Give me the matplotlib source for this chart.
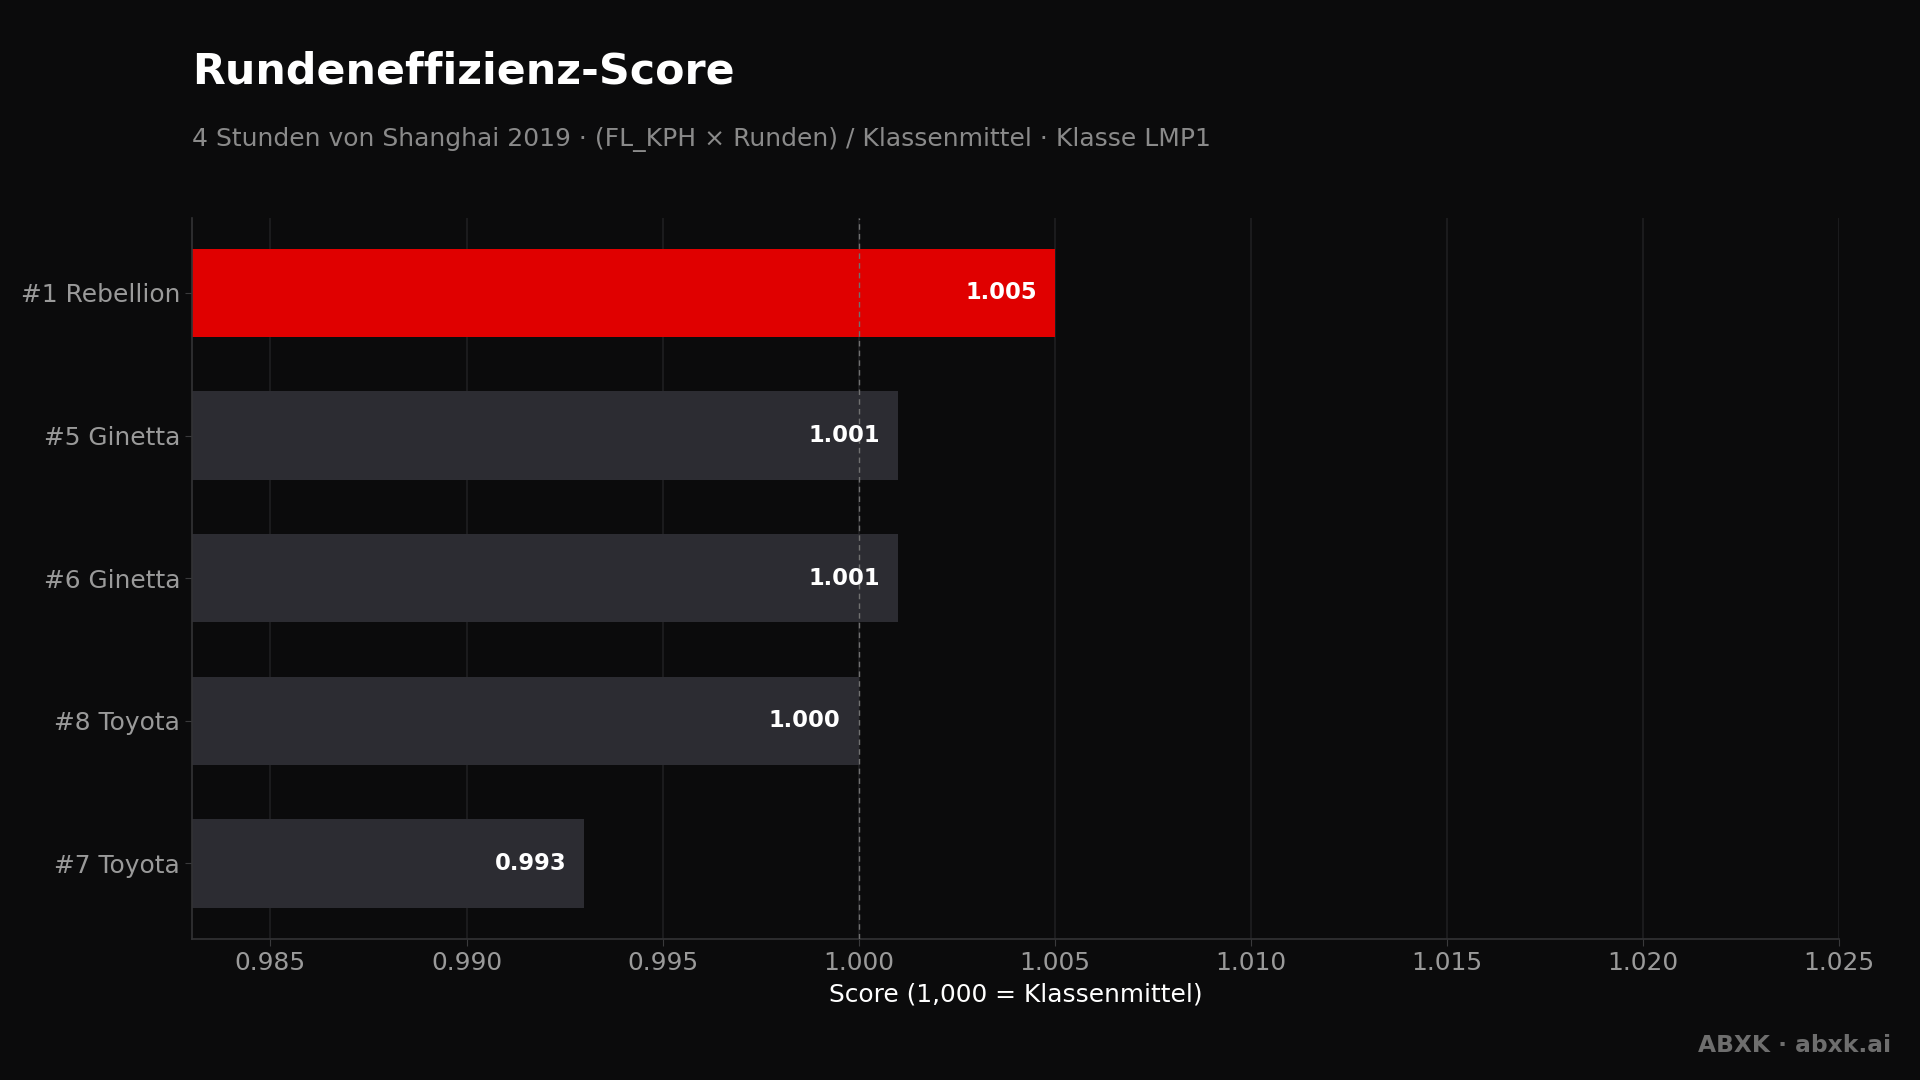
import numpy as np
import matplotlib
matplotlib.use("Agg")
import matplotlib.pyplot as plt

# data
cars = ["#1 Rebellion", "#5 Ginetta", "#6 Ginetta", "#8 Toyota", "#7 Toyota"]
scores = [1.005, 1.001, 1.001, 1.000, 0.993]
highlight = "#1 Rebellion"
xticks = [0.985, 0.990, 0.995, 1.000, 1.005, 1.010, 1.015, 1.020, 1.025]

bg = "#0b0b0c"
red = "#e00000"
grey_bar = "#2c2c32"

fig = plt.figure(figsize=(19.2, 10.8), dpi=100, facecolor=bg)
ax = fig.add_axes([192 / 1920, 1 - 939 / 1080, (1839 - 192) / 1920, (939 - 218) / 1080])
ax.set_facecolor(bg)

y = np.arange(len(cars))
colors = [red if c == highlight else grey_bar for c in cars]
ax.barh(y, scores, height=0.62, color=colors, zorder=2)

ax.set_xlim(0.983, 1.025)
ax.set_ylim(4.53, -0.525)
ax.set_xticks(xticks)
ax.set_xticklabels([f"{t:.3f}" for t in xticks])
ax.set_yticks(y)
ax.set_yticklabels(cars)

ax.grid(axis="x", color="#1f1f21", linewidth=1.2, zorder=0)
ax.axvline(1.0, color="#707070", linestyle=(0, (4, 3)), linewidth=1, zorder=3)

for yi, v in zip(y, scores):
    ax.annotate(f"{v:.3f}", xy=(v, yi), xytext=(-13, 0), textcoords="offset points",
                ha="right", va="center", color="white", fontsize=16.3, fontweight="bold", zorder=4)

for s in ["top", "right"]:
    ax.spines[s].set_visible(False)
for s in ["left", "bottom"]:
    ax.spines[s].set_color("#333335")
    ax.spines[s].set_linewidth(1.2)

ax.tick_params(axis="both", colors="#3a3a3c", labelcolor="#9a9a9a", labelsize=17.9, length=5)
ax.tick_params(axis="x", pad=3.5)
ax.set_xlabel("Score (1,000 = Klassenmittel)", color="white", fontsize=17.9, labelpad=5.3)

fig.text(192 / 1920, 1 - 72 / 1080, "Rundeneffizienz-Score", color="white",
         fontsize=30.8, fontweight="bold", ha="left", va="center")
fig.text(192 / 1920, 1 - 139.5 / 1080,
         "4 Stunden von Shanghai 2019 · (FL_KPH × Runden) / Klassenmittel · Klasse LMP1",
         color="#8a8a8a", fontsize=18, ha="left", va="center")
fig.text(1891 / 1920, 1 - 1045 / 1080, "ABXK · abxk.ai", color="#6e6e6e",
         fontsize=16.8, fontweight="bold", ha="right", va="center")

fig.savefig("out.png", dpi=100, facecolor=bg)
